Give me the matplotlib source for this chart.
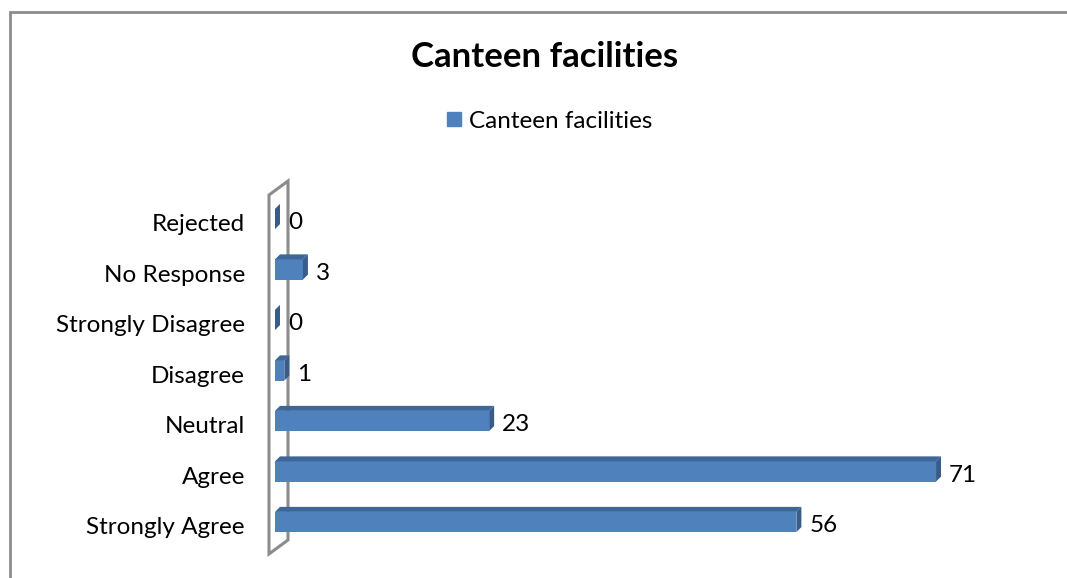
import matplotlib.pyplot as plt
from matplotlib.patches import Polygon, Rectangle, Patch

plt.rcParams['font.family'] = ['Lato', 'DejaVu Sans']

# data
categories = ['Strongly Agree', 'Agree', 'Neutral', 'Disagree',
              'Strongly Disagree', 'No Response', 'Rejected']
values = [56, 71, 23, 1, 0, 3, 0]
series_name = 'Canteen facilities'

front = '#4F81BD'
top_c = '#3D6699'
side_c = '#385D8A'
fs = 17.5

W, H = 1067, 578
fig = plt.figure(figsize=(W / 100, H / 100), dpi=100)

# axes placed in pixels
ax_l, ax_r, ax_t, ax_b = 275, 1000, 181, 554
ax = fig.add_axes([ax_l / W, (H - ax_b) / H, (ax_r - ax_l) / W, (ax_b - ax_t) / H])
xmax = 77.87
ax.set_xlim(0, xmax)
ax.set_ylim(-0.634, 6.752)
for s in ax.spines.values():
    s.set_visible(False)
ax.set_xticks([])

px_x = xmax / (ax_r - ax_l)          # data units per pixel in x
px_y = (6.752 + 0.634) / (ax_b - ax_t)  # data units per pixel in y
dx, dy = 5 * px_x, 5 * px_y
bh = 0.40

# back wall
wall = Polygon([(-6 / 725, 0), (-6 / 725, (554 - 195) / 373),
                (13 / 725, 1), (13 / 725, 14 / 373)],
               closed=True, fill=False, edgecolor='#8C8C8C', lw=2.2,
               transform=ax.transAxes, clip_on=False, zorder=1)
ax.add_patch(wall)

ys = list(range(len(categories)))
ax.barh(ys, values, height=bh, color=front, zorder=3)
for y, v in zip(ys, values):
    t, b = y + bh / 2, y - bh / 2
    ax.add_patch(Polygon([(0, t), (dx, t + dy), (v + dx, t + dy), (v, t)],
                         closed=True, color=top_c, zorder=3, lw=0))
    ax.add_patch(Polygon([(v, b), (v, t), (v + dx, t + dy), (v + dx, b + dy)],
                         closed=True, color=side_c, zorder=3, lw=0))
    ax.text(v + dx + 8 * px_x, y - 4 * px_y, str(v), ha='left', va='center',
            fontsize=fs, color='black')

ax.set_yticks([y - 4 * px_y for y in ys])
ax.set_yticklabels(categories, fontsize=fs)
ax.tick_params(axis='y', length=0, pad=21.6)

# title and legend
fig.text(545 / W, 1 - 57 / H, 'Canteen facilities', ha='center', va='center',
         fontsize=25, fontweight='bold')
fig.legend(handles=[Patch(color=front, label=series_name)], loc='center',
           bbox_to_anchor=(550 / W, 1 - 121 / H), frameon=False, fontsize=fs,
           handlelength=0.55, handleheight=0.55, handletextpad=0.35)

# outer frame
fig.add_artist(Rectangle((10 / W, -0.1), 1.2, 1 - 12 / H + 0.1, fill=False,
                         edgecolor='#8C8C8C', lw=2, transform=fig.transFigure))

fig.savefig('out.png', dpi=100)
